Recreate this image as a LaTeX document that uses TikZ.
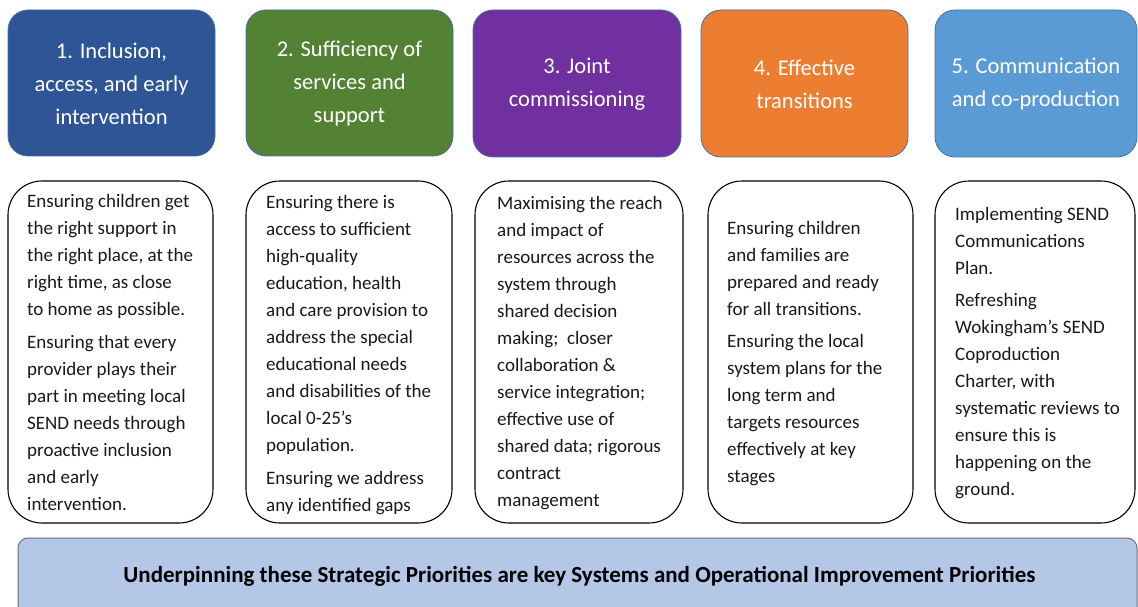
\documentclass[tikz,border=0pt]{standalone}
\usepackage{fontspec}
\setmainfont{Carlito}
\definecolor{cblue}{HTML}{2F5597}
\definecolor{cgreen}{HTML}{548235}
\definecolor{cpurple}{HTML}{7030A0}
\definecolor{corange}{HTML}{ED7D31}
\definecolor{clight}{HTML}{5B9BD5}
\definecolor{cedge}{HTML}{41719C}
\definecolor{cband}{HTML}{B4C7E7}
\definecolor{cbandedge}{HTML}{6F6F6F}
\tikzset{
  topbox/.style={draw=cedge, line width=0.8pt, rounded corners=20pt},
  bodybox/.style={draw=black, line width=1.1pt, fill=white, rounded corners=34pt},
  titletext/.style={text=white, align=center, inner sep=0pt, font=\fontsize{22.5}{33}\selectfont},
  bodytext/.style={text=black!90, align=left, inner sep=0pt, anchor=north west, font=\fontsize{19}{27}\selectfont},
}
\begin{document}
\begin{tikzpicture}[x=1pt,y=-1pt]
\useasboundingbox (0,0) rectangle (1138,607);
% top coloured boxes
\draw[topbox, fill=cblue]   (8,10)   rectangle (215,156);
\draw[topbox, fill=cgreen]  (246,10) rectangle (453,156);
\draw[topbox, fill=cpurple] (473,10) rectangle (681,157);
\draw[topbox, fill=corange] (701,10) rectangle (908,157);
\draw[topbox, fill=clight]  (935,10) rectangle (1137,157);
\node[titletext] (t1) at (111.5,84) {1. Inclusion,\\access, and early\\intervention};
\node[titletext] (t2) at (349.5,84) {2. Sufficiency of\\services and\\support};
\node[titletext] (t3) at (577,84)   {3. Joint\\commissioning};
\node[titletext] (t4) at (804.5,84) {4. Effective\\transitions};
\node[titletext] (t5) at (1036,84)  {5. Communication\\and co-production};
% body boxes
\draw[bodybox] (8,181)   rectangle (213,523);
\draw[bodybox] (246,181) rectangle (452,523);
\draw[bodybox] (475,181) rectangle (683,523);
\draw[bodybox] (708,181) rectangle (913,523);
\draw[bodybox] (935,181) rectangle (1135,523);
\node[bodytext] (b1) at (27,194) {Ensuring children get\\the right support in\\the right place, at the\\right time, as close\\to home as possible.\\[6pt]Ensuring that every\\provider plays their\\part in meeting local\\SEND needs through\\proactive inclusion\\and early\\intervention.};
\node[bodytext] (b2) at (266,195) {Ensuring there is\\access to sufficient\\high-quality\\education, health\\and care provision to\\address the special\\educational needs\\and disabilities of the\\local 0-25’s\\population.\\[6pt]Ensuring we address\\any identified gaps};
\node[bodytext] (b3) at (497,196) {Maximising the reach\\and impact of\\resources across the\\system through\\shared decision\\making;\ \ closer\\collaboration \&\\service integration;\\effective use of\\shared data; rigorous\\contract\\management};
\node[bodytext] (b4) at (727,221) {Ensuring children\\and families are\\prepared and ready\\for all transitions.\\[5pt]Ensuring the local\\system plans for the\\long term and\\targets resources\\effectively at key\\stages};
\node[bodytext] (b5) at (955,207) {Implementing SEND\\Communications\\Plan.\\[5pt]Refreshing\\Wokingham’s SEND\\Coproduction\\Charter, with\\systematic reviews to\\ensure this is\\happening on the\\ground.};
% banner
\begin{scope}
\clip (0,0) rectangle (1138,607);
\draw[draw=cbandedge, line width=1pt, fill=cband, rounded corners=10pt] (18,538) rectangle (1137,630);
\end{scope}
\node[inner sep=0pt, font=\fontsize{23}{26}\selectfont\bfseries] (band) at (579.5,576) {Underpinning these Strategic Priorities are key Systems and Operational Improvement Priorities};
\end{tikzpicture}
\end{document}
